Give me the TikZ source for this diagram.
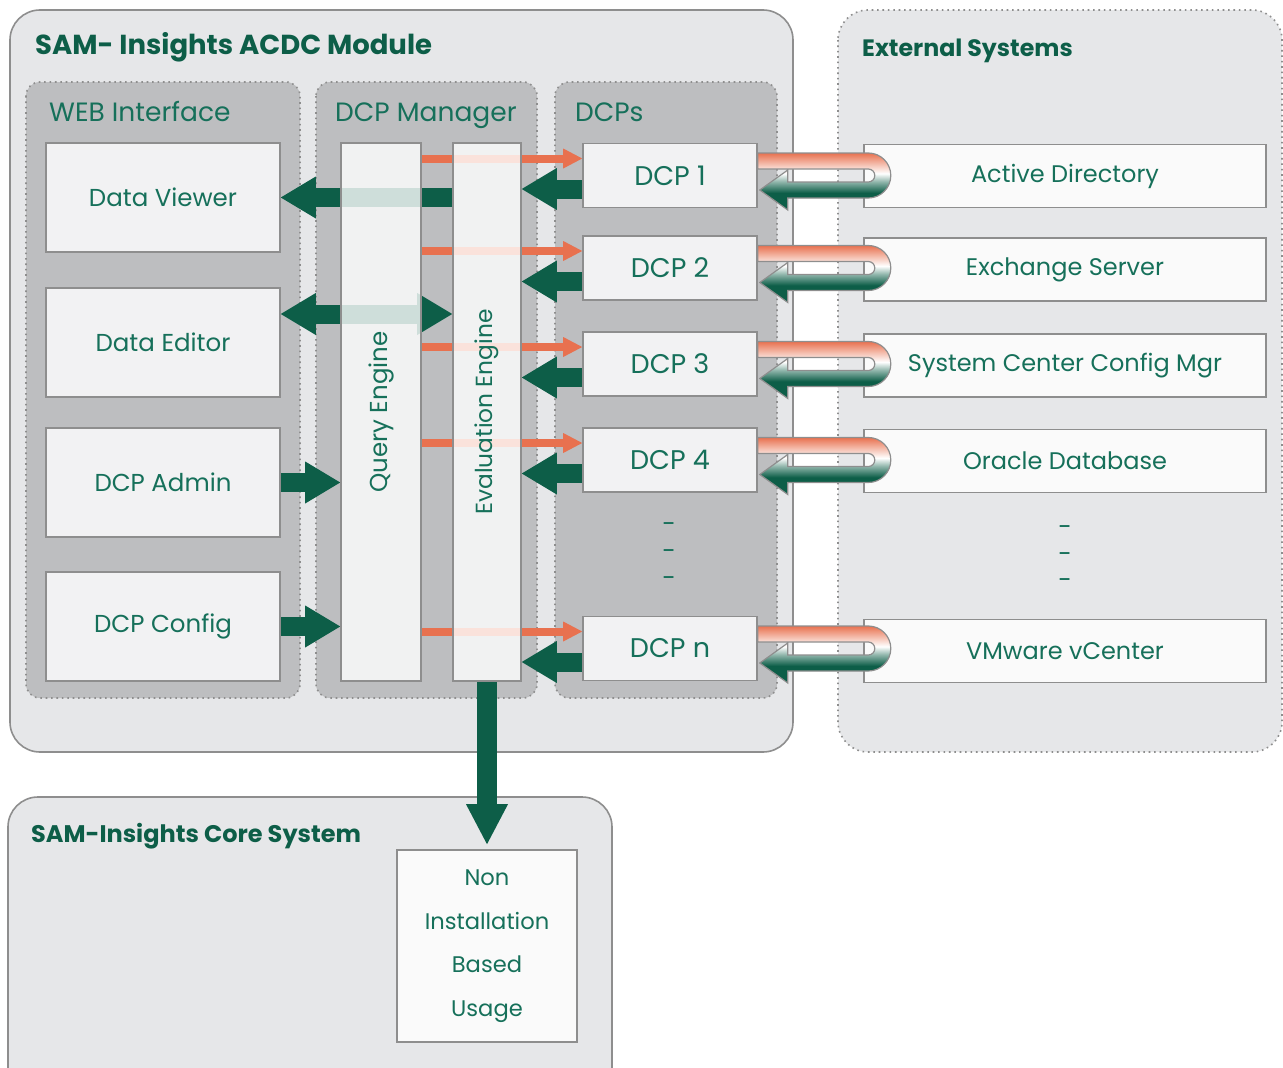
\documentclass[tikz,border=0pt]{standalone}
\usepackage{fontspec}
\setmainfont{Poppins}
\usetikzlibrary{arrows.meta}

\definecolor{acdcgreen}{HTML}{0D5E48}
\definecolor{acdctext}{HTML}{16705A}
\definecolor{acdcorange}{HTML}{E8714F}
\definecolor{acdcfill}{HTML}{E6E7E9}
\definecolor{acdcpanel}{HTML}{BDBEC0}
\definecolor{acdcbox}{HTML}{F2F2F3}
\definecolor{acdcline}{HTML}{8E8E8E}

\pgfdeclarelayer{bg}
\pgfdeclarelayer{mid}
\pgfsetlayers{bg,mid,main}

\pgfdeclareverticalshading{loopshade}{100bp}{color(0bp)=(acdcgreen); color(40bp)=(acdcgreen);
  color(50bp)=(acdcgreen!45!white); color(57bp)=(white); color(75bp)=(acdcorange); color(100bp)=(acdcorange)}

\tikzset{
  module/.style={draw=acdcline, line width=1.6pt, fill=acdcfill, rounded corners=30pt},
  panel/.style={draw=acdcline, line width=1.6pt, dash pattern=on 1.6pt off 3.8pt, fill=acdcpanel, rounded corners=14pt},
  outside/.style={draw=acdcline, line width=1.6pt, dash pattern=on 1.6pt off 3.8pt, fill=acdcfill, rounded corners=30pt},
  heading/.style={font=\bfseries\fontsize{24}{30}\selectfont, text=acdcgreen, anchor=base west},
  paneltitle/.style={font=\fontsize{26.5}{30}\selectfont, anchor=base west},
  box/.style={draw=acdcline, line width=1.6pt, fill=acdcbox},
  webbox/.style={box, minimum width=234pt, minimum height=109pt},
  dcpbox/.style={box, font=\fontsize{27}{30}\selectfont, minimum width=174pt, minimum height=64pt},
  extbox/.style={box, font=\fontsize{24}{30}\selectfont, fill=white!60!acdcbox, minimum width=402pt, minimum height=63pt},
  engine/.style={draw=acdcline, line width=1.6pt, fill=white, fill opacity=0.8, text opacity=1},
  bigarrow/.style={acdcgreen, line width=19pt, -{Triangle[width=42pt, length=35pt, line width=0pt]}},
  bothways/.style={bigarrow, {Triangle[width=42pt, length=35pt, line width=0pt]}-{Triangle[width=42pt, length=35pt, line width=0pt]}},
  feedarrow/.style={acdcorange, line width=8pt, -{Triangle[width=20pt, length=19pt, line width=0pt]}},
  loopback/.style={draw=acdcline, line width=1.2pt, shade, shading=loopshade}
}

\newcommand{\loopto}[1]{%
  \path[loopback, shift={(#1.east)}] (0,-22.5) -- (110.5,-22.5)
    arc[start angle=-90, end angle=90, radius=22.5] -- (30,22.5) -- (30,34.5)
    -- (2,14.5) -- (30,-5.5) -- (30,6.5) -- (110.5,6.5)
    arc[start angle=90, end angle=-90, radius=6.5] -- (0,-6.5) -- cycle;}

\begin{document}
\begin{tikzpicture}[x=1pt, y=-1pt,
  every node/.style={font=\fontsize{24.5}{30}\selectfont, text=acdctext, inner sep=0pt}]
\useasboundingbox (0,0) rectangle (1283,1068);

% Frames
\begin{pgfonlayer}{bg}
\clip (0,0) rectangle (1283,1068);
\draw[module] (10,10) rectangle (793,752);
\draw[panel] (26,82) rectangle (300,698);
\draw[panel] (316,82) rectangle (537,698);
\draw[panel] (555,82) rectangle (777,698);
\draw[outside] (838,10) rectangle (1282,752);
\draw[module] (8,797) rectangle (612,1100);
\end{pgfonlayer}

% Titles
\node[heading, font=\bfseries\fontsize{27.5}{30}\selectfont] (acdctitle) at (35,54) {SAM- Insights ACDC Module};
\node[heading, font=\bfseries\fontsize{23.7}{30}\selectfont] (exttitle) at (862,56) {External Systems};
\node[heading] (coretitle) at (31,842) {SAM-Insights Core System};
\node[paneltitle] (webtitle) at (49,121) {WEB Interface};
\node[paneltitle] (mgrtitle) at (335,121) {DCP Manager};
\node[paneltitle] (dcptitle) at (575,121) {DCPs};

% Web interface
\node[webbox] (viewer) at (163,197.5) {Data Viewer};
\node[webbox] (editor) at (163,342.5) {Data Editor};
\node[webbox] (admin) at (163,482.5) {DCP Admin};
\node[webbox] (config) at (163,626.5) {DCP Config};

% DCP manager
\node[engine, minimum width=80pt, minimum height=538pt] (qe) at (381,412) {};
\node[rotate=90] (qetext) at (qe) {Query Engine};
\node[engine, minimum width=68pt, minimum height=538pt] (ev) at (487,412) {};
\node[rotate=90, font=\fontsize{23.3}{30}\selectfont] (evtext) at (ev) {Evaluation Engine};

% DCPs
\node[dcpbox] (d1) at (670,175.5) {DCP 1};
\node[dcpbox] (d2) at (670,268) {DCP 2};
\node[dcpbox] (d3) at (670,364) {DCP 3};
\node[dcpbox] (d4) at (670,460) {DCP 4};
\node[dcpbox] (dn) at (670,648.5) {DCP n};
\node (dcpdot1) at (669,528) {-};
\node (dcpdot2) at (669,555) {-};
\node (dcpdot3) at (669,582) {-};

% External systems
\node[extbox] (ad) at (1065,176) {Active Directory};
\node[extbox] (exch) at (1065,269.5) {Exchange Server};
\node[extbox] (sccm) at (1065,365.5) {System Center Config Mgr};
\node[extbox] (ora) at (1065,461) {Oracle Database};
\node[extbox] (vmw) at (1065,651) {VMware vCenter};
\node (extdot1) at (1065,531) {-};
\node (extdot2) at (1065,558) {-};
\node (extdot3) at (1065,584) {-};

% Core system
\node[box, fill=white!60!acdcbox, minimum width=180pt, minimum height=192pt, align=center,
  font=\fontsize{22.6}{43.5}\selectfont] (nibu) at (487,946) {Non\\Installation\\Based\\Usage};

% Connectors
\begin{pgfonlayer}{mid}
\draw[bigarrow] (ev.west |- viewer) -- (viewer.east);
\draw[bothways] ([yshift=28.5pt]editor.east) -- ([yshift=28.5pt]editor.east -| ev.west);
\draw[bigarrow] (admin.east) -- (admin.east -| qe.west);
\draw[bigarrow] (config.east) -- (config.east -| qe.west);
\draw[bigarrow, line width=20pt, -{Triangle[width=42pt, length=40pt, line width=0pt]}, shorten >=5pt] (ev.south) -- (nibu.north);
\foreach \d in {d1,d2,d3,d4,dn}{
  \draw[feedarrow] ([yshift=17pt]qe.east |- \d) -- ([yshift=17pt]\d.west);
  \draw[bigarrow] ([yshift=-13.5pt]\d.west) -- ([yshift=-13.5pt]\d.west -| ev.east);
}
\end{pgfonlayer}

\foreach \d in {d1,d2,d3,d4,dn}{\loopto{\d}}
\end{tikzpicture}
\end{document}
